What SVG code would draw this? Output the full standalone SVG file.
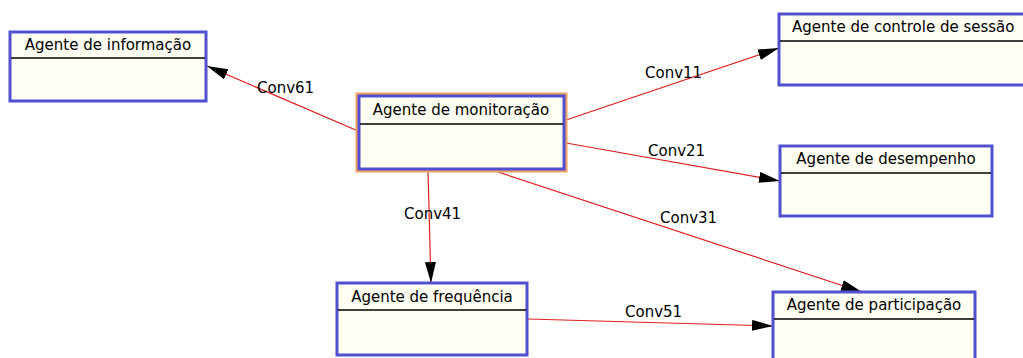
<svg xmlns="http://www.w3.org/2000/svg" width="1023" height="358" viewBox="0 0 1023 358">
<style>
.box{fill:#fefef2;stroke:#5050d0;stroke-width:3}
.sep{stroke:#000;stroke-width:1.5}
.t{font-family:"DejaVu Sans",Verdana,sans-serif;font-size:15px;fill:#000}
.c{stroke:#e02020;stroke-width:1.2;fill:none}
.lbl{font-family:"DejaVu Sans",Verdana,sans-serif;font-size:15px;fill:#000}
</style>
<defs>
<marker id="ah" markerWidth="22" markerHeight="12" refX="21" refY="5.5" orient="auto" markerUnits="userSpaceOnUse">
<path d="M0,0 L21,5.5 L0,11 Z" fill="#000"/>
</marker>
</defs>
<rect width="1023" height="358" fill="#fff"/>
<g id="connectors">
<line class="c" x1="358" y1="131" x2="207" y2="66" marker-end="url(#ah)"/>
<text class="lbl" x="257" y="93">Conv61</text>
<line class="c" x1="566" y1="120" x2="779" y2="48" marker-end="url(#ah)"/>
<text class="lbl" x="645" y="78">Conv11</text>
<line class="c" x1="566" y1="143" x2="780" y2="181" marker-end="url(#ah)"/>
<text class="lbl" x="648" y="156">Conv21</text>
<line class="c" x1="498" y1="172" x2="862" y2="292" marker-end="url(#ah)"/>
<text class="lbl" x="660" y="223">Conv31</text>
<line class="c" x1="428" y1="171" x2="431" y2="283" marker-end="url(#ah)"/>
<text class="lbl" x="404" y="219">Conv41</text>
<line class="c" x1="528" y1="319" x2="773" y2="326" marker-end="url(#ah)"/>
<text class="lbl" x="625" y="317">Conv51</text>
</g>
<g id="informacao">
<rect class="box" x="10" y="32" width="196" height="69"/>
<line class="sep" x1="11" y1="58" x2="205" y2="58"/>
<text class="t" x="108" y="50" text-anchor="middle">Agente de informação</text>
</g>
<g id="monitoracao">
<rect x="357" y="94" width="209" height="77" fill="none" stroke="#f0a060" stroke-width="3"/>
<rect class="box" x="359" y="96" width="205" height="73" stroke-width="2"/>
<line class="sep" x1="360" y1="124" x2="563" y2="124"/>
<text class="t" x="461" y="115" text-anchor="middle">Agente de monitoração</text>
</g>
<g id="controle">
<rect class="box" x="779" y="14" width="260" height="71"/>
<line class="sep" x1="780" y1="41" x2="1023" y2="41"/>
<text class="t" x="792" y="32">Agente de controle de sessão</text>
</g>
<g id="desempenho">
<rect class="box" x="780" y="146" width="212" height="70"/>
<line class="sep" x1="781" y1="173" x2="991" y2="173"/>
<text class="t" x="886" y="164" text-anchor="middle">Agente de desempenho</text>
</g>
<g id="frequencia">
<rect class="box" x="337" y="283" width="190" height="72"/>
<line class="sep" x1="338" y1="310" x2="526" y2="310"/>
<text class="t" x="432" y="302" text-anchor="middle">Agente de frequência</text>
</g>
<g id="participacao">
<rect class="box" x="773" y="292" width="202" height="80"/>
<line class="sep" x1="774" y1="319" x2="974" y2="319"/>
<text class="t" x="874" y="310" text-anchor="middle">Agente de participação</text>
</g>
</svg>
